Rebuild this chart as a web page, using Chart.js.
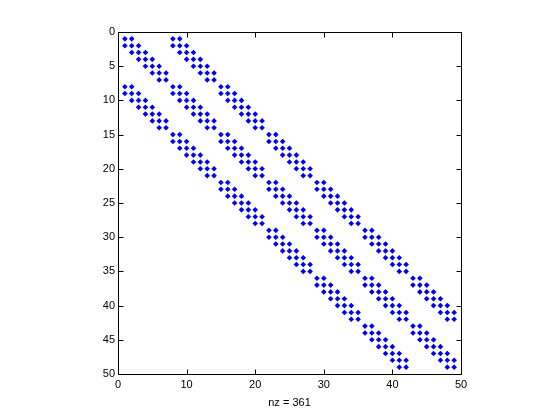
<!DOCTYPE html>
<html>
<head>
<meta charset="utf-8">
<script src="https://cdn.jsdelivr.net/npm/chart.js@4/dist/chart.umd.min.js"></script>
<style>
html,body{margin:0;padding:0;background:#fff;}
#wrap{width:560px;height:420px;}
</style>
</head>
<body>
<div id="wrap"><canvas id="c" width="560" height="420"></canvas></div>
<script>
// Sparsity pattern: for each row (1..49), the columns holding nonzeros
const rowCols = [
  [1,2,8,9],
  [1,2,3,8,9,10],
  [2,3,4,9,10,11],
  [3,4,5,10,11,12],
  [4,5,6,11,12,13],
  [5,6,7,12,13,14],
  [6,7,13,14],
  [1,2,8,9,15,16],
  [1,2,3,8,9,10,15,16,17],
  [2,3,4,9,10,11,16,17,18],
  [3,4,5,10,11,12,17,18,19],
  [4,5,6,11,12,13,18,19,20],
  [5,6,7,12,13,14,19,20,21],
  [6,7,13,14,20,21],
  [8,9,15,16,22,23],
  [8,9,10,15,16,17,22,23,24],
  [9,10,11,16,17,18,23,24,25],
  [10,11,12,17,18,19,24,25,26],
  [11,12,13,18,19,20,25,26,27],
  [12,13,14,19,20,21,26,27,28],
  [13,14,20,21,27,28],
  [15,16,22,23,29,30],
  [15,16,17,22,23,24,29,30,31],
  [16,17,18,23,24,25,30,31,32],
  [17,18,19,24,25,26,31,32,33],
  [18,19,20,25,26,27,32,33,34],
  [19,20,21,26,27,28,33,34,35],
  [20,21,27,28,34,35],
  [22,23,29,30,36,37],
  [22,23,24,29,30,31,36,37,38],
  [23,24,25,30,31,32,37,38,39],
  [24,25,26,31,32,33,38,39,40],
  [25,26,27,32,33,34,39,40,41],
  [26,27,28,33,34,35,40,41,42],
  [27,28,34,35,41,42],
  [29,30,36,37,43,44],
  [29,30,31,36,37,38,43,44,45],
  [30,31,32,37,38,39,44,45,46],
  [31,32,33,38,39,40,45,46,47],
  [32,33,34,39,40,41,46,47,48],
  [33,34,35,40,41,42,47,48,49],
  [34,35,41,42,48,49],
  [36,37,43,44],
  [36,37,38,43,44,45],
  [37,38,39,44,45,46],
  [38,39,40,45,46,47],
  [39,40,41,46,47,48],
  [40,41,42,47,48,49],
  [41,42,48,49]
];
const xTicks = [0,10,20,30,40,50];
const yTicks = [0,5,10,15,20,25,30,35,40,45,50];
const xLabel = 'nz = 361';

const points = [];
rowCols.forEach((cols, i) => cols.forEach(c => points.push({x: c, y: i + 1})));

const FONT = {family: '"Liberation Sans", Arial, Helvetica, sans-serif', size: 11};

const boxTicks = {
  id: 'boxTicks',
  afterDraw(chart) {
    const {ctx, chartArea: a, scales: {x, y}} = chart;
    const L = a.left + 0.5, R = a.right + 0.5, T = a.top + 0.5, B = a.bottom + 0.5;
    const len = 5;
    ctx.save();
    ctx.strokeStyle = '#000';
    ctx.lineWidth = 1;
    ctx.beginPath();
    ctx.rect(L, T, R - L, B - T);
    xTicks.forEach(v => {
      const px = Math.round(x.getPixelForValue(v)) + 0.5;
      ctx.moveTo(px, B); ctx.lineTo(px, B - len);
      ctx.moveTo(px, T); ctx.lineTo(px, T + len);
    });
    yTicks.forEach(v => {
      const py = Math.round(y.getPixelForValue(v)) + 0.5;
      ctx.moveTo(L, py); ctx.lineTo(L + len, py);
      ctx.moveTo(R, py); ctx.lineTo(R - len, py);
    });
    ctx.stroke();
    ctx.restore();
  }
};

new Chart(document.getElementById('c'), {
  type: 'scatter',
  data: {
    datasets: [{
      data: points,
      pointStyle: 'rectRot',
      pointRadius: 2.8,
      pointHoverRadius: 2.8,
      borderWidth: 0,
      backgroundColor: '#0000ee'
    }]
  },
  options: {
    responsive: false,
    animation: false,
    events: [],
    layout: {padding: {top: 32, right: 99, left: 0, bottom: 0}},
    plugins: {legend: {display: false}, tooltip: {enabled: false}},
    scales: {
      x: {
        type: 'linear', position: 'bottom', min: 0, max: 50,
        afterBuildTicks: s => { s.ticks = xTicks.map(v => ({value: v})); },
        afterFit: s => { s.height = 46; },
        grid: {display: false, drawTicks: false},
        border: {display: false},
        ticks: {color: '#000', font: FONT, padding: 4, maxRotation: 0},
        title: {display: true, text: xLabel, color: '#000', font: FONT, padding: {top: 0, bottom: 10}}
      },
      y: {
        type: 'linear', position: 'left', min: 0, max: 50, reverse: true,
        afterBuildTicks: s => { s.ticks = yTicks.map(v => ({value: v})); },
        afterFit: s => { s.width = 118; },
        grid: {display: false, drawTicks: false},
        border: {display: false},
        ticks: {color: '#000', font: FONT, padding: 3}
      }
    }
  },
  plugins: [boxTicks]
});
</script>
</body>
</html>
